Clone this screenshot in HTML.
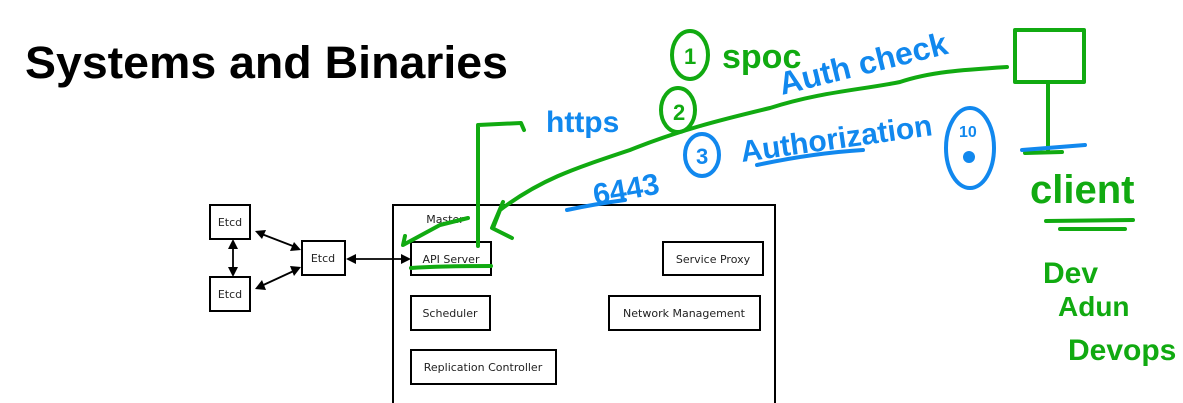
<!DOCTYPE html>
<html><head><meta charset="utf-8"><style>
html,body{margin:0;padding:0;background:#fff;}
body{width:1183px;height:403px;overflow:hidden;position:relative;}
svg{position:absolute;left:0;top:0;}
</style></head><body>
<svg width="1183" height="403" viewBox="0 0 1183 403" xmlns="http://www.w3.org/2000/svg">
<text x="25" y="78" font-family="Liberation Sans, sans-serif" font-weight="bold" font-size="45" fill="#000" textLength="483" lengthAdjust="spacingAndGlyphs">Systems and Binaries</text>

<g fill="#fff" stroke="#000" stroke-width="2">
<rect x="210" y="205" width="40" height="34"/>
<rect x="210" y="277" width="40" height="34"/>
<rect x="302" y="241" width="43" height="34"/>
<rect x="393" y="205" width="382" height="210"/>
<rect x="411" y="242" width="80" height="33"/>
<rect x="663" y="242" width="100" height="33"/>
<rect x="411" y="296" width="79" height="34"/>
<rect x="609" y="296" width="151" height="34"/>
<rect x="411" y="350" width="145" height="34"/>
</g>
<g font-family="DejaVu Sans, sans-serif" font-size="11" fill="#222" text-anchor="middle">
<text x="230" y="226">Etcd</text>
<text x="230" y="298">Etcd</text>
<text x="323" y="262">Etcd</text>
<text x="451" y="263">API Server</text>
<text x="713" y="263">Service Proxy</text>
<text x="450" y="317">Scheduler</text>
<text x="684" y="317">Network Management</text>
<text x="483" y="371">Replication Controller</text>
<text x="445" y="223">Master</text>
</g>
<g stroke="#000" stroke-width="1.8" fill="none">
<line x1="233" y1="242" x2="233" y2="274"/>
<line x1="259" y1="233" x2="298" y2="248"/>
<line x1="259" y1="287" x2="298" y2="269"/>
<line x1="350" y1="259" x2="406" y2="259"/>
</g>
<g fill="#000">
<polygon points="233,239 228,249 238,249"/>
<polygon points="233,277 228,267 238,267"/>
<polygon points="255,231 266,230 262,239"/>
<polygon points="301,250 290,251 294,242"/>
<polygon points="255,289 262,280 266,290"/>
<polygon points="301,267 294,276 290,266"/>
<polygon points="346,259 356,254 356,264"/>
<polygon points="411,259 401,254 401,264"/>
</g>

<g stroke="#11aa11" stroke-width="4" fill="none" stroke-linecap="round" stroke-linejoin="round">
<rect x="1015" y="30" width="69" height="52"/>
<line x1="1048" y1="82" x2="1048" y2="150"/>
<line x1="1025" y1="153" x2="1062" y2="152"/>
<path d="M1007,67 C960,70 930,72 900,82 C860,90 820,92 770,108 C720,120 680,130 630,150 C570,170 540,180 500,210 L493,228"/>
<path d="M503,202 L492,228 L512,238"/>
<path d="M478,246 L478,125 L521,123 L524,130"/>
<path d="M405,236 L403,245 L440,225 L468,218"/>
<path d="M411,268 C440,266 470,266 491,266"/>
<path d="M1046,221 L1133,220 M1060,229 L1125,229"/>
<ellipse cx="690" cy="55" rx="18" ry="24"/>
<ellipse cx="678" cy="110" rx="17" ry="22"/>
</g>
<g font-family="Liberation Sans, sans-serif" fill="#11aa11" font-weight="bold">
<text x="684" y="64" font-size="22">1</text>
<text x="673" y="120" font-size="22">2</text>
<text x="722" y="68" font-size="34">spoc</text>
<text x="1030" y="203" font-size="40">client</text>
<text x="1043" y="283" font-size="30">Dev</text>
<text x="1058" y="316" font-size="28">Adun</text>
<text x="1068" y="360" font-size="30">Devops</text>
</g>

<g stroke="#1188ee" stroke-width="4" fill="none" stroke-linecap="round">
<line x1="1022" y1="150" x2="1085" y2="145"/>
<ellipse cx="702" cy="155" rx="17" ry="21"/>
<ellipse cx="970" cy="148" rx="24" ry="40"/>
<path d="M757,165 C790,158 830,152 863,150"/>
<path d="M567,210 C590,205 610,202 625,200"/>
</g>
<circle cx="969" cy="157" r="6" fill="#1188ee"/>
<g font-family="Liberation Sans, sans-serif" fill="#1188ee" font-weight="bold">
<text x="696" y="164" font-size="22">3</text>
<text x="959" y="137" font-size="16">10</text>
<text x="546" y="132" font-size="30">https</text>
<text x="0" y="0" font-size="32" transform="translate(782,95) rotate(-14)">Auth check</text>
<text x="0" y="0" font-size="30" transform="translate(742,162) rotate(-8)">Authorization</text>
<text x="0" y="0" font-size="30" transform="translate(595,205) rotate(-10)">6443</text>
</g>
</svg>
</body></html>
